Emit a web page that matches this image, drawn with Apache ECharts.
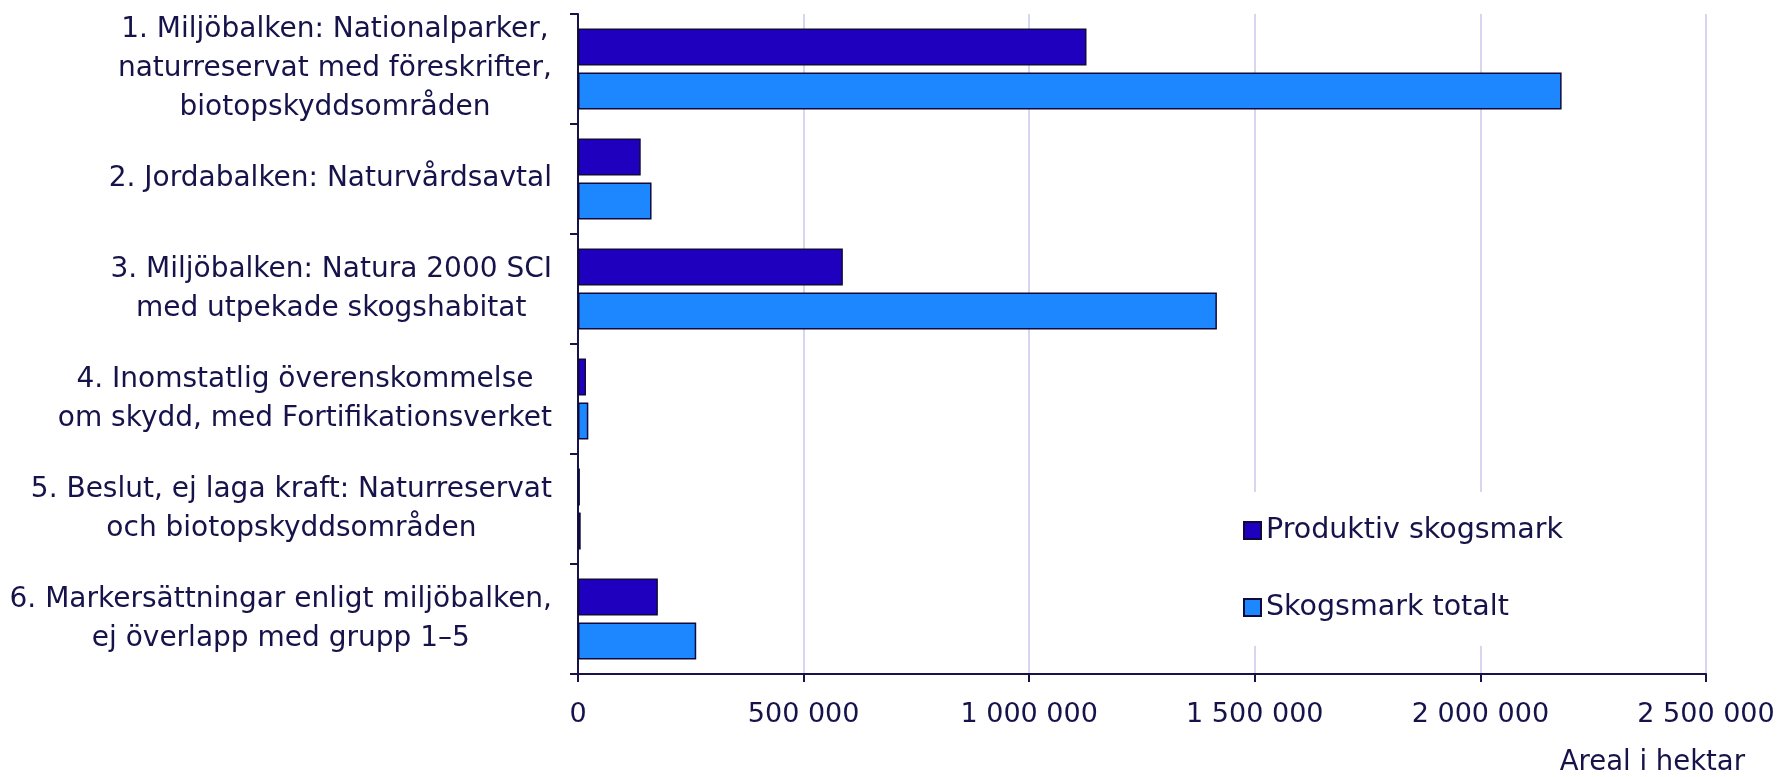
<!DOCTYPE html>
<html>
<head>
<meta charset="utf-8">
<script src="https://cdn.jsdelivr.net/npm/echarts@6/dist/echarts.min.js"></script>
<style>
  html, body { margin: 0; padding: 0; background: #fff; }
  #chart { width: 1782px; height: 777px; }
</style>
</head>
<body>
<div id="chart"></div>
<script>
// kategorier (skyddsformer)
const categories = [
  "1. Miljöbalken: Nationalparker,\nnaturreservat med föreskrifter,\nbiotopskyddsområden",
  "2. Jordabalken: Naturvårdsavtal",
  "3. Miljöbalken: Natura 2000 SCI\nmed utpekade skogshabitat",
  "4. Inomstatlig överenskommelse\nom skydd, med Fortifikationsverket",
  "5. Beslut, ej laga kraft: Naturreservat\noch biotopskyddsområden",
  "6. Markersättningar enligt miljöbalken,\nej överlapp med grupp 1–5"
];
const seriesNames = ["Produktiv skogsmark", "Skogsmark totalt"];
// areal i hektar
const produktiv = [1127000, 139000, 587000, 17700, 4200, 177000];
const totalt = [2180000, 163000, 1416000, 22900, 6000, 262000];
const xTicks = [0, 500000, 1000000, 1500000, 2000000, 2500000];

const textColor = "#15134a";
const fontFamily = "DejaVu Sans, sans-serif";

let chart = echarts.init(document.getElementById("chart"));

function fmt(v) {
  return String(v).replace(/\B(?=(\d{3})+(?!\d))/g, " ");
}

let option = {
  animation: false,
  textStyle: { fontFamily: fontFamily, color: textColor },
  title: {
    text: "Areal i hektar",
    right: 37,
    top: 749,
    padding: 0,
    textStyle: { fontSize: 27.5, fontWeight: "normal", color: textColor, fontFamily: fontFamily }
  },
  legend: {
    orient: "vertical",
    left: 1235,
    top: 492,
    itemGap: 48,
    itemWidth: 17,
    itemHeight: 17,
    icon: "rect",
    backgroundColor: "#fff",
    padding: [24, 24, 24, 8],
    textStyle: { fontSize: 28.5, color: textColor, fontFamily: fontFamily },
    data: seriesNames
  },
  grid: { left: 578, right: 76, top: 14, bottom: 103, containLabel: false, outerBoundsMode: "none" },
  xAxis: {
    type: "value",
    min: xTicks[0],
    max: xTicks[xTicks.length - 1],
    interval: 500000,
    axisLine: { show: true, lineStyle: { color: textColor, width: 2 } },
    axisTick: { show: true, length: 8, lineStyle: { color: textColor, width: 2 } },
    splitLine: { show: true, lineStyle: { color: "#d6d6f0", width: 2 } },
    axisLabel: {
      margin: 27,
      fontSize: 27,
      color: textColor,
      formatter: fmt
    }
  },
  yAxis: {
    type: "category",
    inverse: true,
    data: categories,
    axisLine: { show: true, lineStyle: { color: textColor, width: 2 } },
    axisTick: { show: true, length: 8, lineStyle: { color: textColor, width: 2 } },
    axisLabel: {
      margin: 26,
      fontSize: 28,
      lineHeight: 39,
      align: "right",
      color: textColor,
      formatter: function (v) {
        // centrerade rader, högerjusterat block
        return v.split("\n").map(function (l) { return "{c|" + l + "}"; }).join("\n");
      },
      rich: {
        c: { fontSize: 28, lineHeight: 39, color: textColor, fontFamily: fontFamily, align: "center" }
      }
    }
  },
  series: [
    {
      name: seriesNames[0],
      type: "bar",
      data: produktiv,
      barWidth: 37,
      barGap: "19%",
      itemStyle: { color: "#2000bf", borderColor: "#0e0b3c", borderWidth: 1.5 }
    },
    {
      name: seriesNames[1],
      type: "bar",
      data: totalt,
      barWidth: 37,
      itemStyle: { color: "#1c87ff", borderColor: "#0e0b3c", borderWidth: 1.5 }
    }
  ]
};

chart.setOption(option);
</script>
</body>
</html>
